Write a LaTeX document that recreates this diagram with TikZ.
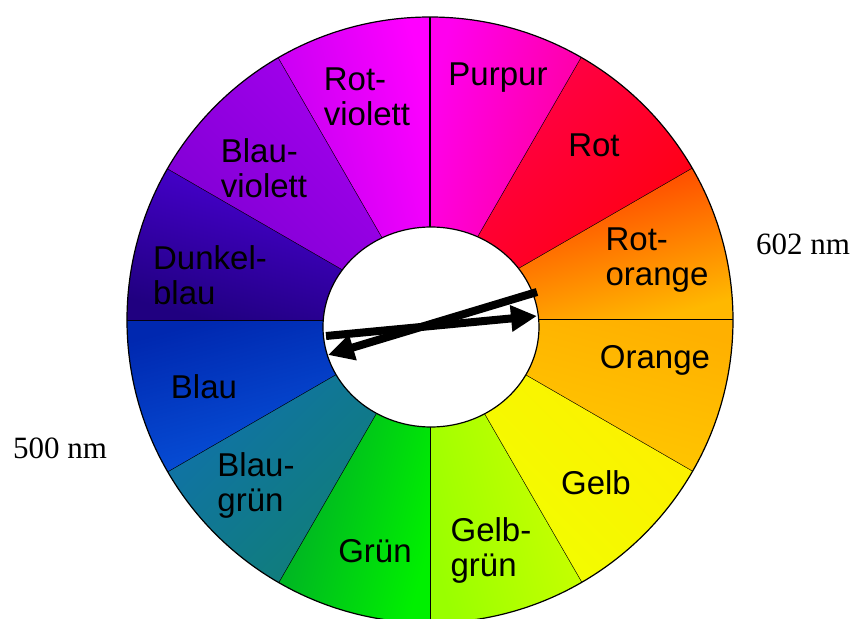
\documentclass[tikz,border=0pt]{standalone}
\usepackage{fontspec}
\setmainfont{Liberation Serif}
\newfontfamily\labelfont{Liberation Sans}
\usetikzlibrary{arrows.meta}
\begin{document}
\begin{tikzpicture}[x=1pt, y=1pt, line width=1.2pt,
    huelabel/.style={font=\labelfont\fontsize{33}{35}\selectfont, align=left, inner sep=0pt},
    nmlabel/.style={font=\fontsize{31}{31}\selectfont, inner sep=0pt},
    pointer/.style={line width=8pt, -{Triangle[length=26pt,width=25pt]}}]
\useasboundingbox (-430,-299) rectangle (425,320);

% wheel: each sector shaded from its upper edge colour to its lower one
\foreach \a/\hi/\lo [evaluate=\a as \m using \a+15] in
  {60/FF00EE/FF0090, 30/FF0050/FF0008, 0/FF2A00/FFB800,
   -30/FFB000/FFCC00, -60/FFEE00/F0FF00, -90/D4FF00/99FF00,
   -120/00F000/00A030, -150/108070/1070B0, 180/0858E0/0028B0,
   150/200080/5000E0, 120/7A00D0/A800F0, 90/B800F0/FF00FF}{
  \definecolor{hi}{HTML}{\hi}
  \definecolor{lo}{HTML}{\lo}
  \shade[top color=hi, bottom color=lo, shading angle=\m]
    (0,0) -- (\a:303) arc[start angle=\a, end angle=\a+30, radius=303] -- cycle;
  \draw (0,0) -- (\a:303);
}
\draw (0,0) circle[radius=303];
\filldraw[fill=white] (1,-7) ellipse[x radius=108, y radius=100];

% colour names
\node[huelabel] (purpur) at (68,242) {Purpur};
\node[huelabel] (rot) at (164,175) {Rot};
\node[huelabel] (rotorange) at (227,60) {Rot-\\orange};
\node[huelabel] (orange) at (225,-40) {Orange};
\node[huelabel] (gelb) at (166,-163) {Gelb};
\node[huelabel] (gelbgruen) at (61,-230) {Gelb-\\grün};
\node[huelabel] (gruen) at (-55,-231) {Grün};
\node[huelabel] (blaugruen) at (-174,-165) {Blau-\\grün};
\node[huelabel] (blau) at (-226,-67) {Blau};
\node[huelabel] (dunkelblau) at (-220,45) {Dunkel-\\blau};
\node[huelabel] (blauviolett) at (-166,152) {Blau-\\violett};
\node[huelabel] (rotviolett) at (-63,223) {Rot-\\violett};

% wavelengths
\node[nmlabel] (nmright) at (373,76) {602 nm};
\node[nmlabel] (nmleft) at (-370,-128) {500 nm};

% complementary pointers
\coordinate (startone) at (107,28);
\coordinate (endone) at (-102,-35);
\coordinate (starttwo) at (-104,-16);
\coordinate (endtwo) at (107,4);
\draw[pointer] (startone) -- (endone);
\draw[pointer] (starttwo) -- (endtwo);
\end{tikzpicture}
\end{document}
